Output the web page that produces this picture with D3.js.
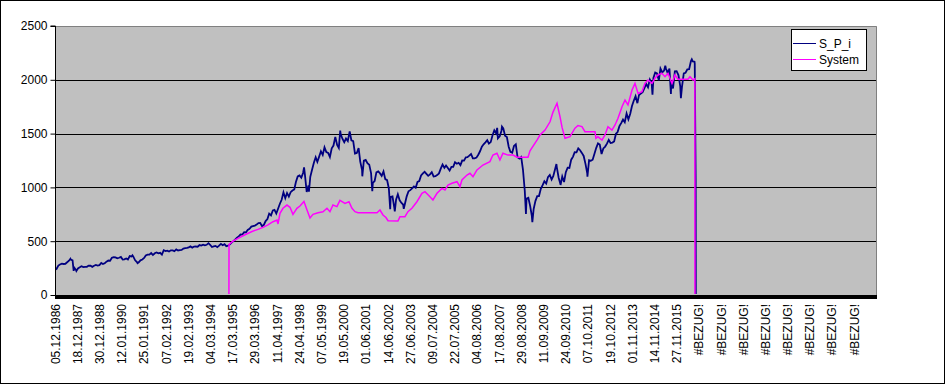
<!DOCTYPE html>
<html><head><meta charset="utf-8">
<script src="https://cdn.jsdelivr.net/npm/d3@7"></script>
<style>
body{margin:0;background:#fff}
svg{display:block}
text{font-family:Arial,"Liberation Sans",sans-serif;fill:#000}
</style>
</head><body>
<svg id="chart" width="945" height="384"></svg>
<script>
// ---------------- data ----------------
const seriesNames = ["S_P_i", "System"];
const seriesColors = ["#000080", "#FF00FF"];

const categoryStart = "1986-12-05";
const categorySpanDays = 14000;   // length of the category axis (10000 weekday rows)
const labelStepDays = 378;        // one label every 270 rows

const xLabels = ["05.12.1986","18.12.1987","30.12.1988","12.01.1990","25.01.1991","07.02.1992",
  "19.02.1993","04.03.1994","17.03.1995","29.03.1996","11.04.1997","24.04.1998","07.05.1999",
  "19.05.2000","01.06.2001","14.06.2002","27.06.2003","09.07.2004","22.07.2005","04.08.2006",
  "17.08.2007","29.08.2008","11.09.2009","24.09.2010","07.10.2011","19.10.2012","01.11.2013",
  "14.11.2014","27.11.2015","#BEZUG!","#BEZUG!","#BEZUG!","#BEZUG!","#BEZUG!","#BEZUG!","#BEZUG!","#BEZUG!"];

const yTicks = [0, 500, 1000, 1500, 2000, 2500];

// S_P_i: month-end values from Dec 1986
const spStartMonth = "1986-12";
const spMonthly = [
  242.17,
  274.08,284.20,291.70,288.36,290.10,304.00,318.66,329.80,321.83,251.79,230.30,247.08,
  257.07,267.82,258.89,261.33,262.16,273.50,272.02,261.52,271.91,278.97,273.70,277.72,
  297.47,288.86,294.87,309.64,320.52,317.98,346.08,351.45,349.15,340.36,345.99,353.40,
  329.08,331.89,339.94,330.80,361.23,358.02,356.15,322.56,306.05,304.00,322.22,330.22,
  343.93,367.07,375.22,375.35,389.83,371.16,387.81,395.43,387.86,392.46,375.22,417.09,
  408.79,412.70,403.69,414.95,415.35,408.14,424.21,414.03,417.80,418.68,431.35,435.71,
  438.78,443.38,451.67,440.19,450.19,450.53,448.13,463.56,458.93,467.83,461.79,466.45,
  481.61,467.14,445.77,450.91,456.50,444.27,458.26,475.49,462.69,472.35,453.69,459.27,
  470.42,487.39,500.71,514.71,533.40,544.75,562.06,561.88,584.41,581.50,605.37,615.93,
  636.02,640.43,645.50,654.17,669.12,670.63,639.95,651.99,687.31,705.27,757.02,740.74,
  786.16,790.82,757.12,801.34,848.28,885.14,954.29,899.47,947.28,914.62,955.40,970.43,
  980.28,1049.34,1101.75,1111.75,1090.82,1133.84,1120.67,957.28,1017.01,1098.67,1163.63,1229.23,
  1279.64,1238.33,1286.37,1335.18,1301.84,1372.71,1328.72,1320.41,1282.71,1362.93,1388.91,1469.25,
  1394.46,1366.42,1498.58,1452.43,1420.60,1454.60,1430.83,1517.68,1436.51,1429.40,1314.95,1320.28,
  1366.01,1239.94,1160.33,1249.46,1255.82,1224.42,1211.23,1133.58,1040.94,1059.78,1139.45,1148.08,
  1130.20,1106.73,1147.39,1076.92,1067.14,989.82,911.62,916.07,815.28,885.76,936.31,879.82,
  855.70,841.15,848.18,916.92,963.59,974.50,990.31,1008.01,995.97,1050.71,1058.20,1111.92,
  1131.13,1144.94,1126.21,1107.30,1120.68,1140.84,1101.72,1104.24,1114.58,1130.20,1173.82,1211.92,
  1181.27,1203.60,1180.59,1156.85,1191.50,1191.33,1234.18,1220.33,1228.81,1207.01,1249.48,1248.29,
  1280.08,1280.66,1294.83,1310.61,1270.09,1270.20,1276.66,1303.82,1335.85,1377.94,1400.63,1418.30,
  1438.24,1406.82,1420.86,1482.37,1530.62,1503.35,1455.27,1473.99,1526.75,1549.38,1481.14,1468.36,
  1378.55,1330.63,1322.70,1385.59,1400.38,1280.00,1267.38,1282.83,1166.36,968.75,896.24,903.25,
  825.88,735.09,797.87,872.81,919.14,919.32,987.48,1020.62,1057.08,1036.19,1095.63,1115.10,
  1073.87,1104.49,1169.43,1186.69,1089.41,1030.71,1101.60,1049.33,1141.20,1183.26,1180.55,1257.64,
  1286.12,1327.22,1325.83,1363.61,1345.20,1320.64,1292.28,1218.89,1131.42,1253.30,1246.96,1257.60,
  1312.41,1365.68,1408.47,1397.91,1310.33,1362.16,1379.32,1406.58,1440.67,1412.16,1416.18,1426.19,
  1498.11,1514.68,1569.19,1597.57,1630.74,1606.28,1685.73,1632.97,1681.55,1756.54,1805.81,1848.36,
  1782.59,1859.45,1872.34,1883.95,1923.57,1960.23,1930.67,2003.37,1972.29,2018.05,2067.56,2058.90,
  1994.99,2104.50,2067.89,2085.51,2107.39,2063.11,2103.84,1972.18,1920.03,2079.36,2080.41,2043.94,
  1940.24,1932.23,2059.74,2065.30,2096.95,2098.86,2173.60,2170.95,2168.27
];
// S_P_i: intra-month extremes and the end of the series
const spExtraDates = ["1986-12-05","1987-08-25","1987-10-19","1987-12-04","1990-07-16","1990-10-11",
  "1998-07-17","1998-10-08","2000-03-24","2000-09-01","2001-04-04","2001-09-21","2002-07-23",
  "2002-10-09","2003-03-11","2007-07-19","2007-10-09","2008-11-20","2009-03-09","2010-04-23",
  "2010-07-02","2011-10-03","2014-10-15","2015-05-21","2015-08-25","2016-02-11","2016-08-15",
  "2016-10-04","2016-10-20","2016-10-22","2025-04-06"];
const spExtraValues = [251,336.77,224.84,223.92,368.95,295.46,
  1186.75,959.44,1527.46,1520.77,1103.25,965.80,797.70,
  776.76,800.73,1553.08,1565.15,752.44,676.53,1217.28,
  1022.58,1099.23,1862.49,2130.82,1867.61,1829.08,2190.15,
  2150,1062,0,0];

// System
const sysDates = ["1986-12-05","1995-01-14","1995-01-16","1995-03-24","1995-06-17","1995-10-15",
  "1996-02-11","1996-05-23","1996-08-16","1996-11-09","1997-02-03","1997-04-12","1997-04-29",
  "1997-06-02","1997-07-23","1997-09-29","1997-11-19","1998-01-09","1998-03-17","1998-05-08",
  "1998-07-15","1998-09-05","1998-10-26","1998-12-16","1999-03-11","1999-06-04","1999-08-11",
  "1999-10-01","1999-11-21","2000-01-28","2000-03-19","2000-06-13","2000-08-20","2000-10-10",
  "2000-11-30","2001-01-21","2001-12-10","2002-01-30","2002-03-22","2002-05-12","2002-06-16",
  "2002-12-02","2003-01-05","2003-03-31","2003-05-21","2003-07-28","2003-10-21","2004-01-15",
  "2004-03-06","2004-05-30","2004-07-20","2004-09-27","2004-12-20","2005-02-10","2005-04-02",
  "2005-06-09","2005-09-02","2005-10-23","2005-11-26","2006-02-20","2006-04-12","2006-06-02",
  "2006-08-09","2006-11-19","2007-03-17","2007-05-08","2007-07-15","2007-09-04","2007-10-25",
  "2008-01-19","2008-04-14","2008-06-21","2008-12-25","2009-01-28","2009-05-27","2009-07-17",
  "2009-10-11","2010-01-04","2010-02-24","2010-05-03","2010-06-23","2010-07-27","2010-09-16",
  "2010-12-10","2011-03-05","2011-04-25","2011-07-02","2011-08-22","2012-02-09","2012-02-25",
  "2012-03-30","2012-06-07","2012-07-28","2012-09-17","2012-11-24","2013-01-15","2013-03-07",
  "2013-05-14","2013-07-04","2013-08-24","2013-11-01","2013-12-21","2014-02-11","2014-04-19",
  "2014-06-09","2014-07-30","2014-10-06","2014-11-26","2015-01-16","2015-03-25","2015-05-16",
  "2015-07-06","2015-09-12","2015-11-02","2015-12-23","2016-06-11","2016-07-15","2016-09-04",
  "2016-10-06","2016-10-08","2025-04-06"];
const sysValues = [0,0,470,500,527,560,
  590,610,629,651,681,697,660,
  759,806,836,815,750,806,827,
  870,790,716,750,765,774,806,
  774,836,821,880,852,867,806,
  774,765,765,790,744,720,690,
  688,728,728,774,806,867,945,
  960,914,883,945,991,976,1022,
  1038,1053,1006,1069,1115,1131,1100,
  1162,1208,1239,1301,1317,1255,1317,
  1300,1300,1280,1280,1340,1440,1487,
  1533,1610,1700,1782,1657,1560,1456,
  1471,1550,1575,1565,1518,1518,1456,
  1471,1440,1487,1564,1533,1580,1642,
  1750,1812,1766,1905,1967,1874,1890,
  1967,1998,1967,2014,2045,2060,2029,
  2060,1967,2045,2005,2005,2029,1998,
  2010,0,0];

// ---------------- build ----------------
const parse = d3.utcParse("%Y-%m-%d");
const parseM = d3.utcParse("%Y-%m");
const m0 = parseM(spStartMonth);
const spPts = spMonthly.map((v, i) => ({d: d3.utcDay.offset(d3.utcMonth.offset(m0, i + 1), -1), v}))
  .concat(spExtraDates.map((s, i) => ({d: parse(s), v: spExtraValues[i]})))
  .sort((a, b) => a.d - b.d);
const sysPts = sysDates.map((s, i) => ({d: parse(s), v: sysValues[i]}));

const W = 945, H = 384;
const plot = {l: 55, r: 877, t: 26, b: 295};
const t0 = parse(categoryStart);
const x = d3.scaleUtc().domain([t0, d3.utcDay.offset(t0, categorySpanDays)]).range([plot.l, plot.r]);
const y = d3.scaleLinear().domain([0, 2500]).range([plot.b, plot.t]);

const svg = d3.select("#chart");
svg.append("rect").attr("x", 0).attr("y", 0).attr("width", W).attr("height", H).attr("fill", "#fff");
svg.append("rect").attr("x", 0.5).attr("y", 0.5).attr("width", W - 1).attr("height", H - 1)
  .attr("fill", "none").attr("stroke", "#000");

svg.append("defs").append("clipPath").attr("id", "plotclip").append("rect")
  .attr("x", plot.l).attr("y", plot.t).attr("width", plot.r - plot.l).attr("height", plot.b - plot.t - 1);

// plot area
svg.append("rect").attr("x", plot.l).attr("y", plot.t).attr("width", plot.r - plot.l)
  .attr("height", plot.b - plot.t).attr("fill", "#C0C0C0");

// gridlines
svg.append("g").selectAll("line").data(yTicks.filter(v => v > 0 && v < 2500)).join("line")
  .attr("x1", plot.l).attr("x2", plot.r)
  .attr("y1", d => Math.round(y(d)) + 0.5).attr("y2", d => Math.round(y(d)) + 0.5)
  .attr("stroke", "#000").attr("stroke-width", 1);

// plot border (top/right)
svg.append("path").attr("d", `M${plot.l},${plot.t + 0.5}H${plot.r - 0.5}V${plot.b}`)
  .attr("fill", "none").attr("stroke", "#808080");

// lines
const line = d3.line().x(d => x(d.d)).y(d => y(d.v));
const gl = svg.append("g").attr("clip-path", "url(#plotclip)");
gl.append("path").datum(spPts).attr("d", line).attr("fill", "none")
  .attr("stroke", seriesColors[0]).attr("stroke-width", 1.8).attr("stroke-linejoin", "miter");
gl.append("path").datum(sysPts).attr("d", line).attr("fill", "none")
  .attr("stroke", seriesColors[1]).attr("stroke-width", 1.5);

// y axis
const yAxis = d3.axisLeft(y).tickValues(yTicks).tickSize(5).tickPadding(3).tickFormat(d3.format("d"));
const gy = svg.append("g").attr("transform", `translate(${plot.l + 0.5},0)`).call(yAxis);
gy.select(".domain").attr("stroke", "#000").attr("d", `M-5,${y(2500)}H0V${plot.b}`);
gy.selectAll(".tick line").attr("stroke", "#000");
gy.selectAll("text").attr("font-size", 12).attr("font-family", "Arial, 'Liberation Sans', sans-serif").attr("fill", "#000");

// x axis: dense category ticks form a solid band
const tickDates = xLabels.map((s, i) => d3.utcDay.offset(t0, i * labelStepDays));
svg.append("rect").attr("x", plot.l).attr("y", plot.b).attr("width", plot.r - plot.l).attr("height", 4).attr("fill", "#000");
const xAxis = d3.axisBottom(x).tickValues(tickDates).tickSize(0).tickFormat((d, i) => xLabels[i]);
const gx = svg.append("g").attr("transform", `translate(0,${plot.b + 9})`).call(xAxis);
gx.select(".domain").remove();
gx.selectAll("text")
  .attr("font-size", 12).attr("font-family", "Arial, 'Liberation Sans', sans-serif").attr("fill", "#000")
  .attr("text-anchor", "end").attr("transform", "rotate(-90)")
  .attr("x", 0).attr("y", 0).attr("dy", "0.35em");

// legend
const lg = svg.append("g").attr("transform", "translate(791,29)");
lg.append("rect").attr("x", 0.5).attr("y", 0.5).attr("width", 75).attr("height", 41)
  .attr("fill", "#fff").attr("stroke", "#000");
seriesNames.forEach((n, i) => {
  const yy = 14.5 + i * 16;
  lg.append("line").attr("x1", 2).attr("x2", 25).attr("y1", yy).attr("y2", yy)
    .attr("stroke", seriesColors[i]).attr("stroke-width", 1);
  lg.append("text").attr("x", 28).attr("y", yy).attr("dy", "0.35em").attr("font-size", 12).text(n);
});
</script>
</body></html>
